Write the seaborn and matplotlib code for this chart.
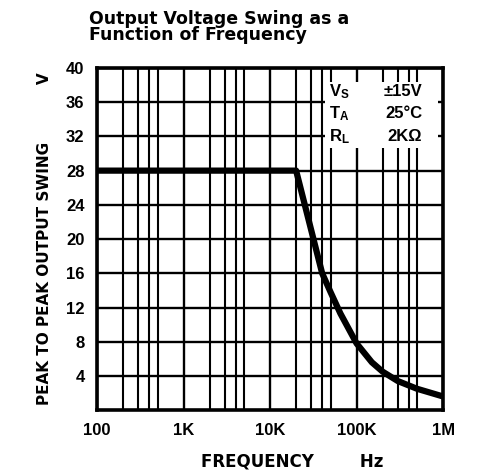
import numpy as np
import pandas as pd
import seaborn as sns
import matplotlib.pyplot as plt
from matplotlib.patches import Rectangle
from matplotlib.ticker import FixedLocator, NullFormatter

# curve
freq_hz = [100, 20000, 40000, 50000, 65000, 100000, 150000, 200000, 300000, 500000, 1000000]
swing_v = [28, 28, 16.0, 13.8, 11.3, 7.8, 5.6, 4.5, 3.4, 2.5, 1.6]

y_ticks = [4, 8, 12, 16, 20, 24, 28, 32, 36, 40]
x_ticks = [100, 1000, 10000, 100000, 1000000]
x_labels = ["100", "1K", "10K", "100K", "1M"]
minor_mult = [2, 3, 4, 5]

cond_names = ["$\\mathregular{V_S}$", "$\\mathregular{T_A}$", "$\\mathregular{R_L}$"]
cond_values = ["±15V", "25°C", "2KΩ"]

df = pd.DataFrame({"freq": freq_hz, "swing": swing_v})

sns.set_style("white")
plt.rcParams['font.family'] = ['Liberation Sans', 'DejaVu Sans']
plt.rcParams.update({"text.color": "black", "axes.labelcolor": "black",
                     "xtick.color": "black", "ytick.color": "black"})

fig = plt.figure(figsize=(4.78, 4.72), dpi=100)
ax = fig.add_axes([0.203, 0.131, 0.724, 0.725])

sns.lineplot(data=df, x="freq", y="swing", sort=False, estimator=None,
             color="black", linewidth=4.5, ax=ax, zorder=5)

ax.set_xscale("log")
ax.set_xlim(100, 1000000)
ax.set_ylim(0, 40)

minors = [m * d for d in [100, 1000, 10000, 100000] for m in minor_mult]
ax.xaxis.set_major_locator(FixedLocator(x_ticks))
ax.xaxis.set_minor_locator(FixedLocator(minors))
ax.xaxis.set_minor_formatter(NullFormatter())
ax.set_xticks(x_ticks)
ax.set_xticklabels(x_labels, fontsize=12, fontweight="bold")
ax.set_yticks(y_ticks)
ax.set_yticklabels([str(v) for v in y_ticks], fontsize=12, fontweight="bold")
ax.tick_params(axis="both", which="both", length=0, pad=9, labelcolor="black")

ax.grid(True, which="major", axis="both", color="black", linewidth=1.7)
ax.grid(True, which="minor", axis="x", color="black", linewidth=1.5)
for s in ax.spines.values():
    s.set_linewidth(2.6)
    s.set_color("black")

ax.set_xlabel("FREQUENCY        Hz", fontsize=12, fontweight="bold",
              family=["DejaVu Sans"], color="black")
ax.xaxis.set_label_coords(0.565, -0.125)
ax.set_ylabel("PEAK TO PEAK OUTPUT SWING           V", fontsize=11, fontweight="bold",
              family=["DejaVu Sans"], labelpad=10, color="black")

# conditions box
ax.add_patch(Rectangle((0.66, 0.765), 0.325, 0.195, transform=ax.transAxes,
                       facecolor="white", edgecolor="none", zorder=6))
for i, (n, v) in enumerate(zip(cond_names, cond_values)):
    yy = 0.932 - i * 0.066
    ax.text(0.67, yy, n, transform=ax.transAxes, fontsize=12, fontweight="bold",
            va="center", ha="left", zorder=7, color="black")
    ax.text(0.94, yy, v, transform=ax.transAxes, fontsize=12, fontweight="bold",
            va="center", ha="right", zorder=7, color="black")

fig.text(0.186, 0.978, "Output Voltage Swing as a\nFunction of Frequency",
         fontsize=12.5, fontweight="bold", family=["DejaVu Sans"], color="black",
         ha="left", va="top", linespacing=0.85)

fig.savefig("out.png", dpi=100)
